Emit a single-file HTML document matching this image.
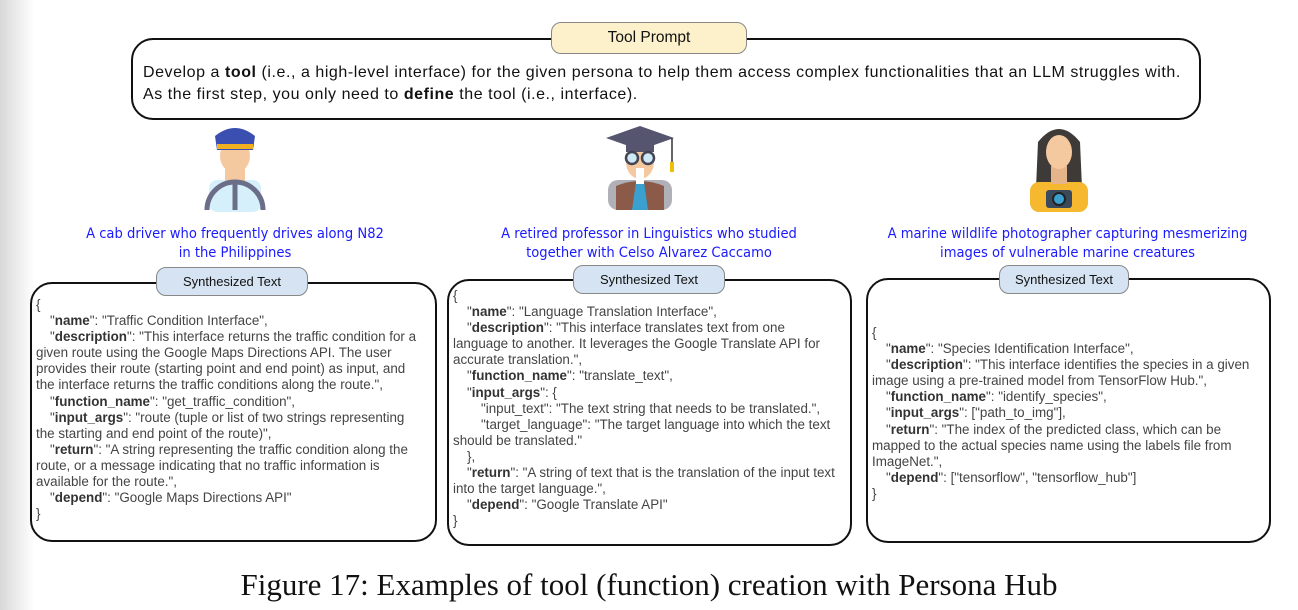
<!DOCTYPE html>
<html><head><meta charset="utf-8"><style>
body{margin:0;width:1298px;height:610px;background:#fff;position:relative;overflow:hidden;font-family:"Liberation Sans",sans-serif}
.abs{position:absolute}
.box{position:absolute;border:2px solid #111;border-radius:22px;background:#fff}
.tab{position:absolute;border:1.5px solid #888;border-radius:10px;text-align:center;font-size:13px;color:#111}
.code{position:absolute;font-size:13.4px;color:#444;line-height:16.1px;white-space:nowrap}
.code b{color:#333}
.i{padding-left:14px}
.i2{padding-left:28px}
.cap{position:absolute;color:#1a1aff;font-size:14.6px;text-align:center;line-height:19px;font-family:"DejaVu Sans Condensed","Liberation Sans Narrow",sans-serif}
</style></head><body>
<div class="abs" style="left:0;top:0;width:34px;height:610px;background:linear-gradient(90deg,#d8d8d8,#fff)"></div>

<div class="box" style="left:131px;top:38px;width:1066px;height:78px"></div>
<div class="tab" style="left:551px;top:22px;width:194px;height:30px;line-height:30px;background:#fdf1cc;font-size:15.5px">Tool Prompt</div>
<div class="abs" style="left:143px;top:62px;font-size:16px;letter-spacing:0.55px;line-height:22px;color:#111;white-space:nowrap">Develop a <b>tool</b> (i.e., a high-level interface) for the given persona to help them access complex functionalities that an LLM struggles with.<br>As the first step, you only need to <b>define</b> the tool (i.e., interface).</div>

<!-- icons -->
<svg class="abs" style="left:195px;top:122px" width="80" height="90" viewBox="0 0 80 90">
<rect x="14" y="58" width="52" height="32" rx="8" fill="#d6f0fb"/>
<polygon points="37,58 43,58 41,80 39,80" fill="#f0b020"/>
<rect x="30" y="42" width="20" height="18" fill="#f5c9a0"/>
<ellipse cx="40" cy="34" rx="15" ry="17" fill="#f5c9a0"/>
<path d="M20 14 Q40 -2 60 14 L58 28 L22 28 Z" fill="#3a4fb0"/>
<rect x="22" y="22" width="36" height="5" fill="#f0b020"/>
<path d="M12 88 A28 28 0 0 1 68 88" stroke="#6b6e88" stroke-width="5" fill="none"/>
<line x1="40" y1="62" x2="40" y2="88" stroke="#6b6e88" stroke-width="5"/>
</svg>
<svg class="abs" style="left:602px;top:124px" width="76" height="86" viewBox="0 0 76 86">
<rect x="6" y="56" width="64" height="30" rx="10" fill="#b0b0b8"/>
<path d="M14 86 L14 62 Q38 52 62 62 L62 86 Z" fill="#8b5a48"/>
<polygon points="34,58 42,58 46,86 30,86" fill="#3aa0d0"/>
<ellipse cx="38" cy="38" rx="14" ry="17" fill="#f5c9a0"/>
<rect x="34" y="44" width="8" height="16" fill="#fff"/>
<polygon points="38,2 72,14 38,26 4,14" fill="#555570"/>
<rect x="24" y="16" width="28" height="12" fill="#555570"/>
<circle cx="30" cy="34" r="6" fill="#cfe8f5" stroke="#445" stroke-width="2.5"/>
<circle cx="46" cy="34" r="6" fill="#cfe8f5" stroke="#445" stroke-width="2.5"/>
<line x1="70" y1="14" x2="70" y2="44" stroke="#333" stroke-width="1.5"/>
<rect x="68" y="38" width="4" height="10" fill="#f0c000"/>
</svg>
<svg class="abs" style="left:1024px;top:122px" width="70" height="90" viewBox="0 0 70 90">
<path d="M14 20 Q35 -6 56 20 L58 66 L12 66 Z" fill="#3e3a38"/>
<rect x="6" y="60" width="58" height="30" rx="9" fill="#f5b82e"/>
<rect x="27" y="44" width="16" height="18" fill="#e6b48a"/>
<ellipse cx="35" cy="30" rx="13" ry="17" fill="#f5c9a0"/>
<rect x="22" y="68" width="26" height="18" rx="3" fill="#3a4a5c"/>
<circle cx="35" cy="77" r="6" fill="#3aa0d0" stroke="#222" stroke-width="2"/>
</svg>

<div class="cap" style="left:45px;top:224px;width:380px">A cab driver who frequently drives along N82<br>in the Philippines</div>
<div class="cap" style="left:459px;top:224px;width:380px">A retired professor in Linguistics who studied<br>together with Celso Alvarez Caccamo</div>
<div class="cap" style="left:855px;top:224px;width:425px">A marine wildlife photographer capturing mesmerizing<br>images of vulnerable marine creatures</div>

<!-- left -->
<div class="box" style="left:30px;top:282px;width:403px;height:256px"></div>
<div class="tab" style="left:156px;top:267px;width:150px;height:27px;line-height:27px;background:#d5e3f3">Synthesized Text</div>
<div class="code" style="left:36px;top:297px">{<br>
<div class="i">"<b>name</b>": "Traffic Condition Interface",</div>
<div class="i">"<b>description</b>": "This interface returns the traffic condition for a</div>
given route using the Google Maps Directions API. The user<br>
provides their route (starting point and end point) as input, and<br>
the interface returns the traffic conditions along the route.",<br>
<div class="i">"<b>function_name</b>": "get_traffic_condition",</div>
<div class="i">"<b>input_args</b>": "route (tuple or list of two strings representing</div>
the starting and end point of the route)",<br>
<div class="i">"<b>return</b>": "A string representing the traffic condition along the</div>
route, or a message indicating that no traffic information is<br>
available for the route.",<br>
<div class="i">"<b>depend</b>": "Google Maps Directions API"</div>
}</div>

<!-- middle -->
<div class="box" style="left:447px;top:279px;width:401px;height:263px"></div>
<div class="tab" style="left:573px;top:265px;width:150px;height:27px;line-height:27px;background:#d5e3f3">Synthesized Text</div>
<div class="code" style="left:453px;top:288px">{<br>
<div class="i">"<b>name</b>": "Language Translation Interface",</div>
<div class="i">"<b>description</b>": "This interface translates text from one</div>
language to another. It leverages the Google Translate API for<br>
accurate translation.",<br>
<div class="i">"<b>function_name</b>": "translate_text",</div>
<div class="i">"<b>input_args</b>": {</div>
<div class="i2">"input_text": "The text string that needs to be translated.",</div>
<div class="i2">"target_language": "The target language into which the text</div>
should be translated."<br>
<div class="i">},</div>
<div class="i">"<b>return</b>": "A string of text that is the translation of the input text</div>
into the target language.",<br>
<div class="i">"<b>depend</b>": "Google Translate API"</div>
}</div>

<!-- right -->
<div class="box" style="left:866px;top:278px;width:401px;height:261px"></div>
<div class="tab" style="left:999px;top:265px;width:128px;height:27px;line-height:27px;background:#d5e3f3">Synthesized Text</div>
<div class="code" style="left:872px;top:325px">{<br>
<div class="i">"<b>name</b>": "Species Identification Interface",</div>
<div class="i">"<b>description</b>": "This interface identifies the species in a given</div>
image using a pre-trained model from TensorFlow Hub.",<br>
<div class="i">"<b>function_name</b>": "identify_species",</div>
<div class="i">"<b>input_args</b>": ["path_to_img"],</div>
<div class="i">"<b>return</b>": "The index of the predicted class, which can be</div>
mapped to the actual species name using the labels file from<br>
ImageNet.",<br>
<div class="i">"<b>depend</b>": ["tensorflow", "tensorflow_hub"]</div>
}</div>

<div class="abs" style="left:0;top:567px;width:1298px;text-align:center;font-family:'Liberation Serif',serif;font-size:31px;color:#111">Figure 17: Examples of tool (function) creation with Persona Hub</div>
</body></html>
